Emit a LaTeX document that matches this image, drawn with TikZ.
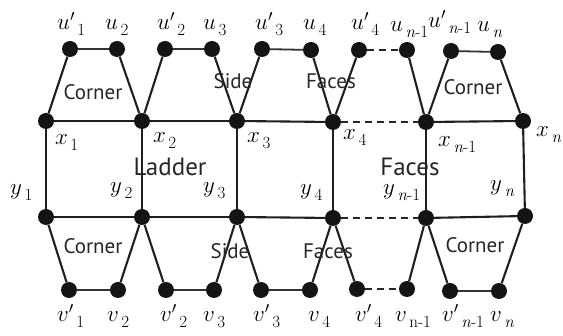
\RequirePackage{fix-cm}
\documentclass[tikz,border=0pt]{standalone}
\usepackage{fontspec}
\newfontfamily\lblsans{PT Sans}
\newcommand{\vl}[2]{\fontsize{23}{23}\selectfont$#1$\hspace{2.5pt}\raisebox{-6pt}{\fontsize{17}{17}\selectfont #2}}
\tikzset{
  dot/.style={circle,fill=black!92,inner sep=0pt,minimum size=16pt},
  edge/.style={line width=2.1pt,black!88},
  hedge/.style={line width=1.8pt,black!80},
  dedge/.style={line width=2.1pt,black!85,dash pattern=on 7pt off 5pt},
  lab/.style={anchor=base west,inner sep=0pt},
  face/.style={font=\lblsans\fontsize{21}{21}\selectfont,text=black!85,inner sep=0pt,text depth=0pt},
}
\begin{document}
\begin{tikzpicture}[x=1pt,y=-1pt]
\useasboundingbox (0,0) rectangle (563,336);
% nodes
\node[dot] (u1p) at (70,49) {};
\node[dot] (u2) at (117,49) {};
\node[dot] (u2p) at (165,49) {};
\node[dot] (u3) at (212,49) {};
\node[dot] (u3p) at (262,49) {};
\node[dot] (u4) at (311,50) {};
\node[dot] (u4p) at (359,50) {};
\node[dot] (un1) at (407,50) {};
\node[dot] (un1p) at (451,51) {};
\node[dot] (un) at (498,52) {};
\node[dot] (x1) at (46,121) {};
\node[dot] (x2) at (142,121) {};
\node[dot] (x3) at (237,121) {};
\node[dot] (x4) at (333,122) {};
\node[dot] (xn1) at (426,122) {};
\node[dot] (xn) at (523,121) {};
\node[dot] (y1) at (46,217) {};
\node[dot] (y2) at (142,217) {};
\node[dot] (y3) at (237,217) {};
\node[dot] (y4) at (333,218) {};
\node[dot] (yn1) at (426,218) {};
\node[dot] (yn) at (525,216) {};
\node[dot] (v1p) at (69,290) {};
\node[dot] (v2) at (118,290) {};
\node[dot] (v2p) at (166,290) {};
\node[dot] (v3) at (214,290) {};
\node[dot] (v3p) at (261,290) {};
\node[dot] (v4) at (310,290) {};
\node[dot] (v4p) at (357,289) {};
\node[dot] (vn1) at (407,289) {};
\node[dot] (vn1p) at (450,291) {};
\node[dot] (vn) at (499,291) {};
% edges
\draw[hedge] (u1p) -- (u2); \draw[hedge] (u2p) -- (u3); \draw[hedge] (u3p) -- (u4);
\draw[dedge] (u4p) -- (un1); \draw[hedge] (un1p) -- (un);
\draw[edge] (u1p) -- (x1); \draw[edge] (u2) -- (x2); \draw[edge] (u2p) -- (x2);
\draw[edge] (u3) -- (x3); \draw[edge] (u3p) -- (x3); \draw[edge] (u4) -- (x4);
\draw[edge] (u4p) -- (x4); \draw[edge] (un1) -- (xn1); \draw[edge] (un1p) -- (xn1);
\draw[edge] (un) -- (xn);
\draw[edge] (x1) -- (x2); \draw[edge] (x2) -- (x3); \draw[edge] (x3) -- (x4);
\draw[dedge] (x4) -- (xn1); \draw[edge] (xn1) -- (xn);
\draw[edge] (x1) -- (y1); \draw[edge] (x2) -- (y2); \draw[edge] (x3) -- (y3);
\draw[edge] (x4) -- (y4); \draw[edge] (xn1) -- (yn1); \draw[edge] (xn) -- (yn);
\draw[edge] (y1) -- (y2); \draw[edge] (y2) -- (y3); \draw[edge] (y3) -- (y4);
\draw[dedge] (y4) -- (yn1); \draw[edge] (yn1) -- (yn);
\draw[edge] (y1) -- (v1p); \draw[edge] (y2) -- (v2); \draw[edge] (y2) -- (v2p);
\draw[edge] (y3) -- (v3); \draw[edge] (y3) -- (v3p); \draw[edge] (y4) -- (v4);
\draw[edge] (y4) -- (v4p); \draw[edge] (yn1) -- (vn1); \draw[edge] (yn1) -- (vn1p);
\draw[edge] (yn) -- (vn);
\draw[hedge] (v1p) -- (v2); \draw[hedge] (v2p) -- (v3); \draw[hedge] (v3p) -- (v4);
\draw[dedge] (v4p) -- (vn1); \draw[hedge] (vn1p) -- (vn);
% vertex labels
\node[lab] (lu1p) at (57,30) {\vl{u'}{1}};
\node[lab] (lu2) at (105,30) {\vl{u}{2}};
\node[lab] (lu2p) at (157,30) {\vl{u'}{2}};
\node[lab] (lu3) at (203,30) {\vl{u}{3}};
\node[lab] (lu3p) at (255,30) {\vl{u'}{3}};
\node[lab] (lu4) at (303,30) {\vl{u}{4}};
\node[lab] (lu4p) at (351,30) {\vl{u'}{4}};
\node[lab] (lun1) at (390,32) {\vl{u}{\textit{n}-1}};
\node[lab] (lun1p) at (428,28) {\vl{u'}{\textit{n}-1}};
\node[lab] (lun) at (477,32) {\vl{u}{\textit{n}}};
\node[lab] (lx1) at (55,145) {\vl{x}{1}};
\node[lab] (lx2) at (153,143) {\vl{x}{2}};
\node[lab] (lx3) at (247,143) {\vl{x}{3}};
\node[lab] (lx4) at (343,140) {\vl{x}{4}};
\node[lab] (lxn1) at (438,147) {\vl{x}{\textit{n}-1}};
\node[lab] (lxn) at (536,137) {\vl{x}{\textit{n}}};
\node[lab] (ly1) at (10,195) {\vl{y}{1}};
\node[lab] (ly2) at (110,193) {\vl{y}{2}};
\node[lab] (ly3) at (203,193) {\vl{y}{3}};
\node[lab] (ly4) at (300,195) {\vl{y}{4}};
\node[lab] (lyn1) at (383,195) {\vl{y}{\textit{n}-1}};
\node[lab] (lyn) at (490,191) {\vl{y}{\textit{n}}};
\node[lab] (lv1p) at (57,322) {\vl{v'}{1}};
\node[lab] (lv2) at (107,322) {\vl{v}{2}};
\node[lab] (lv2p) at (160,322) {\vl{v'}{2}};
\node[lab] (lv3) at (203,322) {\vl{v}{3}};
\node[lab] (lv3p) at (253,322) {\vl{v'}{3}};
\node[lab] (lv4) at (308,322) {\vl{v}{4}};
\node[lab] (lv4p) at (355,322) {\vl{v'}{4}};
\node[lab] (lvn1) at (395,322) {\vl{v}{n-1}};
\node[lab] (lvn1p) at (442,322) {\vl{v'}{\textit{n}-1}};
\node[lab] (lvn) at (490,322) {\vl{v}{\textit{n}}};
% face labels
\node[face] (c1) at (93,92) {Corner};
\node[face] (c2) at (473,87) {Corner};
\node[face] (c3) at (93,246) {Corner};
\node[face] (c4) at (475,245) {Corner};
\node[face] (s1) at (233,81) {Side};
\node[face] (s2) at (230,251) {Side};
\node[face] (f1) at (331,81) {Faces};
\node[face] (f2) at (328,251) {Faces};
\node[face,font=\lblsans\fontsize{25}{25}\selectfont] (ld) at (170,167) {Ladder};
\node[face,font=\lblsans\fontsize{25}{25}\selectfont] (fm) at (410,167) {Faces};
\end{tikzpicture}
\end{document}
